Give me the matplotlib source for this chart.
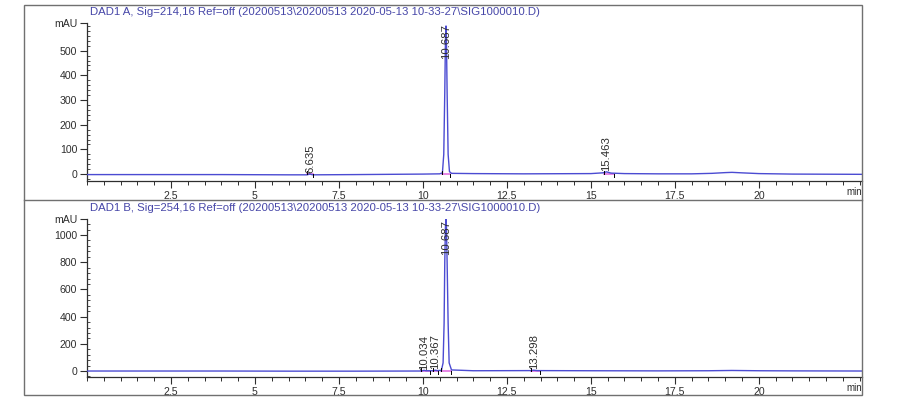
import matplotlib.pyplot as plt
from matplotlib.ticker import MultipleLocator
from matplotlib.lines import Line2D
from matplotlib.patches import Rectangle

plt.rcParams['font.family'] = ['Liberation Sans', 'DejaVu Sans']

# ---- data ----
titles = [
    r"DAD1 A, Sig=214,16 Ref=off (20200513\20200513 2020-05-13 10-33-27\SIG1000010.D)",
    r"DAD1 B, Sig=254,16 Ref=off (20200513\20200513 2020-05-13 10-33-27\SIG1000010.D)",
]

# trace A (214 nm)
time_a = [0, 2, 4, 6, 6.55, 6.635, 6.72, 8, 10, 10.5, 10.58, 10.62, 10.65, 10.67,
          10.687, 10.70, 10.72, 10.75, 10.79, 10.85, 11.5, 13, 15, 15.35, 15.463,
          15.6, 16, 17, 18, 18.6, 19.0, 19.2, 19.5, 20, 21, 23.1]
mau_a = [-2, -2, -2, -3, -3, 0, -3, -2, 0, 1, 5, 80, 330, 540, 600, 540, 330, 80,
         10, 3, 2, 1, 2, 5, 9, 4, 2, 1, 1, 3, 6, 7, 5, 2, 0, -1]

# trace B (254 nm)
time_b = [0, 2, 4, 6, 8, 9.9, 9.98, 10.034, 10.09, 10.3, 10.367, 10.43, 10.55,
          10.6, 10.63, 10.65, 10.67, 10.687, 10.70, 10.72, 10.75, 10.78, 10.85,
          11.5, 13.2, 13.298, 13.4, 15, 17, 18.5, 19.2, 20, 21, 23.1]
mau_b = [0, 0, 0, -1, -1, 0, 2, 5, 2, 2, 6, 3, 5, 60, 350, 800, 1060, 1120, 1060,
         800, 350, 60, 8, 2, 3, 6, 3, 2, 1, 2, 4, 2, 1, 0]

# integrated peaks: retention time, apex height, start, end
peaks_a_rt = [6.635, 10.687, 15.463]
peaks_a_h = [0, 600, 9]
peaks_a_start = [6.56, 10.58, 15.40]
peaks_a_end = [6.72, 10.82, 15.68]

peaks_b_rt = [10.034, 10.367, 10.687, 13.298]
peaks_b_h = [5, 6, 1120, 6]
peaks_b_start = [9.95, 10.30, 10.55, 13.22]
peaks_b_end = [10.22, 10.45, 10.85, 13.48]

ylims = [(-28, 612), (-44, 1118)]
yminor = [20, 40]
yticks = [[0, 100, 200, 300, 400, 500], [0, 200, 400, 600, 800, 1000]]
xlim = (0, 23.07)
xticks = [2.5, 5, 7.5, 10, 12.5, 15, 17.5, 20]
xlabels = ['2.5', '5', '7.5', '10', '12.5', '15', '17.5', '20']

trace_color = '#4b4bd2'
base_color = '#e070e0'
title_color = '#4646a8'
ink = '#2e2e2e'

fig = plt.figure(figsize=(9, 4), dpi=100)

# outer frame and divider
fig.patches.append(Rectangle((24 / 900, 5 / 400), (862 - 24) / 900, (395 - 5) / 400,
                             transform=fig.transFigure, fill=False,
                             edgecolor='#707070', lw=1))
fig.lines.append(Line2D([24 / 900, 862 / 900], [1 - 200 / 400, 1 - 200 / 400],
                        transform=fig.transFigure, color='#707070', lw=1))

panels = [
    (time_a, mau_a, peaks_a_rt, peaks_a_h, peaks_a_start, peaks_a_end),
    (time_b, mau_b, peaks_b_rt, peaks_b_h, peaks_b_start, peaks_b_end),
]
ax_rects = [
    [87 / 900, 1 - 181 / 400, (862 - 87) / 900, (181 - 23) / 400],
    [87 / 900, 1 - 377 / 400, (862 - 87) / 900, (377 - 219) / 400],
]
title_y = [1 - 12 / 400, 1 - 208 / 400]

for i, (t, v, rt, h, st, en) in enumerate(panels):
    ax = fig.add_axes(ax_rects[i])
    ax.plot(t, v, color=trace_color, lw=1.0, zorder=3)

    # integration baselines and markers
    span = ylims[i][1] - ylims[i][0]
    for s, e in zip(st, en):
        ax.plot([s, e], [0, 0], color=base_color, lw=1.2, zorder=2)
        ax.plot([s, s], [0, span * 0.02], color='black', lw=0.7, zorder=4)
        ax.plot([e, e], [0, -span * 0.02], color='black', lw=0.7, zorder=4)

    # retention time labels
    top = ylims[i][1]
    for r, hh in zip(rt, h):
        lbl = f"{r:.3f}"
        if hh > top * 0.6:
            ax.text(r, top * 0.995, lbl, rotation=90, ha='center', va='top',
                    fontsize=8.2, color=ink, zorder=5)
        else:
            ax.text(r, hh + top * 0.005, lbl, rotation=90, ha='center', va='bottom',
                    fontsize=8.2, color=ink, zorder=5)

    ax.set_xlim(*xlim)
    ax.set_ylim(*ylims[i])
    for side in ['top', 'right']:
        ax.spines[side].set_visible(False)
    for side in ['left', 'bottom']:
        ax.spines[side].set_color(ink)
        ax.spines[side].set_linewidth(0.9)

    ax.set_xticks(xticks)
    ax.set_xticklabels(xlabels)
    ax.xaxis.set_minor_locator(MultipleLocator(0.5))
    ax.set_yticks(yticks[i] + [top])
    ax.set_yticklabels([str(y) for y in yticks[i]] + ['mAU'])
    ax.yaxis.set_minor_locator(MultipleLocator(yminor[i]))
    ax.tick_params(axis='both', which='major', labelsize=7.6, colors=ink,
                   direction='out', length=5, width=0.8, pad=2)
    ax.tick_params(axis='x', which='minor', direction='out', length=3, width=0.7,
                   colors=ink)
    ax.tick_params(axis='y', which='minor', direction='in', length=2.5, width=0.6,
                   colors=ink)
    ax.text(1.0, -0.04, 'min', transform=ax.transAxes, ha='right', va='top',
            fontsize=7, color=ink)
    ax.patch.set_alpha(0)

    fig.text(90 / 900, title_y[i], titles[i], fontsize=8.2, color=title_color,
             ha='left', va='center')

fig.savefig('out.png', dpi=100, facecolor='white')
